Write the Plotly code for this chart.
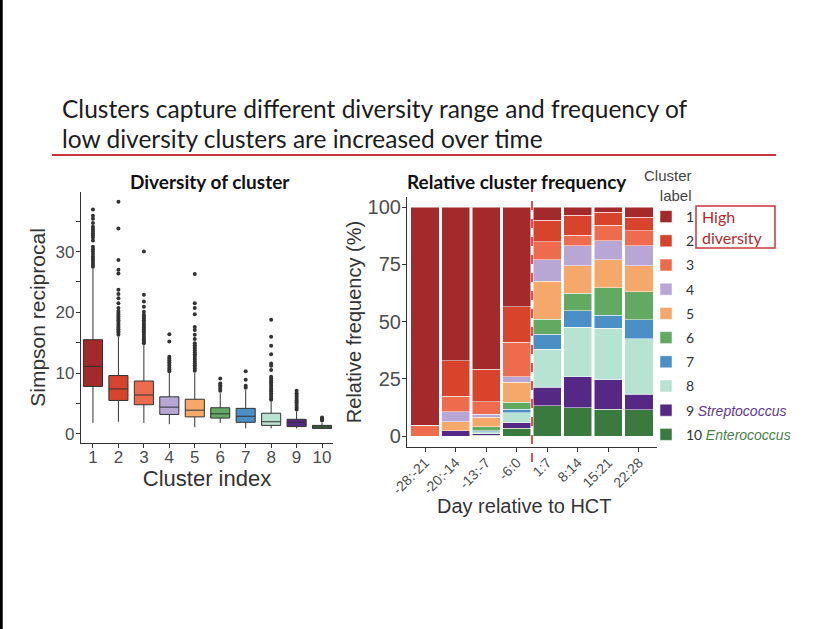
import plotly.graph_objects as go

# ---------------- data ----------------
clusters = [1, 2, 3, 4, 5, 6, 7, 8, 9, 10]
cluster_colors = ["#A3292A", "#D8432B", "#EE6C4D", "#B8A6D4", "#F5A86A",
                  "#62AA62", "#4A8FC6", "#B7E3D3", "#562885", "#3B7A3F"]

# Simpson reciprocal box stats per cluster
box_lower = [1.8, 2.0, 1.8, 1.6, 1.1, 1.8, 0.9, 0.9, 0.9, 0.85]
box_q1 = [7.8, 5.5, 4.8, 3.2, 2.8, 2.6, 1.9, 1.4, 1.2, 0.9]
box_median = [11.1, 7.4, 6.4, 4.4, 3.9, 3.3, 2.9, 2.0, 1.9, 1.15]
box_q3 = [15.5, 9.6, 8.7, 6.1, 5.7, 4.3, 4.2, 3.4, 2.4, 1.4]
box_upper = [27.2, 16.0, 14.6, 10.0, 10.0, 6.7, 7.2, 5.3, 3.7, 1.8]

out_c1 = [36.9, 35.9, 35.4, 34.7, 34.1, 33.7, 33.4, 33.0, 32.7, 32.3, 31.8,
          30.8, 30.4, 30.0, 29.6, 29.2, 28.8, 28.5, 28.1, 27.8, 27.5]
out_c2 = [38.2, 33.8, 28.6, 27.0, 26.4, 23.7, 23.0, 22.3, 21.5, 20.7, 20.2,
          19.9, 19.6, 19.3, 19.0, 18.7, 18.4, 18.1, 17.8, 17.5, 17.2, 16.9,
          16.6, 16.3]
out_c3 = [30.0, 22.9, 21.8, 20.9, 20.1, 19.6, 19.3, 19.0, 18.7, 18.4, 18.1,
          17.8, 17.5, 17.2, 16.9, 16.6, 16.3, 16.0, 15.7, 15.4, 15.1, 14.9]
out_c4 = [16.4, 15.2, 12.7, 12.4, 12.1, 11.8, 11.5, 11.2, 10.9, 10.6, 10.3]
out_c5 = [26.3, 21.5, 20.7, 19.7, 17.6, 17.1, 16.3, 15.6, 14.9, 14.6, 14.3,
          14.0, 13.7, 13.4, 13.1, 12.8, 12.5, 12.2, 11.9, 11.6, 11.3, 11.0,
          10.7, 10.4]
out_c6 = [9.1, 8.3, 8.0, 7.7, 7.4, 7.1]
out_c7 = [10.3, 8.9, 7.9, 7.6]
out_c8 = [18.8, 16.0, 14.5, 13.1, 11.6, 11.2, 10.5, 9.4, 9.1, 8.8, 8.5, 8.2,
          7.9, 7.6, 7.3, 7.0, 6.7, 6.4, 6.1, 5.8, 5.6]
out_c9 = [7.1, 6.7, 6.4, 6.1, 5.8, 5.5, 5.2, 4.9, 4.6, 4.3, 4.0]
out_c10 = [2.7, 2.5, 2.4, 2.3, 2.2]

# relative cluster frequency (%) per period
periods = ["-28:-21", "-20:-14", "-13:-7", "-6:0", "1:7", "8:14", "15:21", "22:28"]
freq_c1 = [95.2, 67.2, 70.9, 43.6, 5.7, 3.5, 2.3, 4.5]
freq_c2 = [0, 15.5, 14.1, 15.4, 9.4, 8.7, 5.6, 5.8]
freq_c3 = [4.8, 6.6, 5.5, 15.1, 8.0, 4.8, 6.8, 6.7]
freq_c4 = [0, 4.4, 1.3, 2.5, 9.2, 8.6, 8.4, 8.6]
freq_c5 = [0, 4.0, 4.1, 8.7, 16.6, 12.1, 12.1, 11.4]
freq_c6 = [0, 0, 1.9, 2.9, 6.7, 7.6, 12.0, 12.3]
freq_c7 = [0, 0, 0.4, 1.6, 6.6, 7.2, 5.8, 8.3]
freq_c8 = [0, 0, 0.9, 4.4, 16.5, 21.6, 22.5, 24.1]
freq_c9 = [0, 2.3, 0.5, 2.4, 8.1, 13.5, 12.9, 6.9]
freq_c10 = [0, 0, 0.4, 3.4, 13.2, 12.4, 11.6, 11.4]

legend_names = ["1", "2", "3", "4", "5", "6", "7", "8",
                "9 <span style='font-family:Liberation Sans;color:#5E3A8C'><i>Streptococcus</i></span>",
                "10 <span style='font-family:Liberation Sans;color:#4B7F4B'><i>Enterococcus</i></span>"]

outliers = [out_c1, out_c2, out_c3, out_c4, out_c5, out_c6, out_c7, out_c8, out_c9, out_c10]
freqs = [freq_c1, freq_c2, freq_c3, freq_c4, freq_c5, freq_c6, freq_c7, freq_c8, freq_c9, freq_c10]

W, H = 828, 629
def px_x(v):
    return v / W
def px_y(v):
    return (H - v) / H

AX_FONT = "Liberation Sans"
TXT_FONT = "Lato"

fig = go.Figure()

# ---------------- left: boxplots ----------------
for i, c in enumerate(clusters):
    fig.add_trace(go.Box(
        x=[c], q1=[box_q1[i]], median=[box_median[i]], q3=[box_q3[i]],
        lowerfence=[box_lower[i]], upperfence=[box_upper[i]],
        fillcolor=cluster_colors[i], line=dict(color="#333333", width=1),
        width=0.75, whiskerwidth=0, boxpoints=False, showlegend=False,
        xaxis="x", yaxis="y", hoverinfo="skip",
    ))

ox, oy = [], []
for c, vals in zip(clusters, outliers):
    ox += [c] * len(vals)
    oy += vals
fig.add_trace(go.Scatter(
    x=ox, y=oy, mode="markers", marker=dict(size=4, color="#333333"),
    showlegend=False, xaxis="x", yaxis="y", hoverinfo="skip",
))

# ---------------- right: stacked bars (cluster 10 at the bottom) ----------------
for i in reversed(range(len(clusters))):
    fig.add_trace(go.Bar(
        x=periods, y=freqs[i], name=legend_names[i],
        marker=dict(color=cluster_colors[i], line=dict(color="white", width=0.5)),
        xaxis="x2", yaxis="y2", legendgroup=str(clusters[i]),
        legendrank=clusters[i],
    ))

axis_common = dict(showline=True, linecolor="#333333", linewidth=1.2,
                   ticks="outside", ticklen=4, tickcolor="#333333",
                   showgrid=False, zeroline=False, automargin=False)

fig.update_layout(
    width=W, height=H,
    margin=dict(l=0, r=0, t=0, b=0),
    paper_bgcolor="white", plot_bgcolor="white",
    barmode="stack", bargap=0.08,
    xaxis=dict(domain=[px_x(81), px_x(333)], anchor="y", range=[0.53, 10.43],
               tickvals=clusters, ticktext=[str(c) for c in clusters],
               ticklabelstandoff=-6,
               tickfont=dict(family=AX_FONT, size=17, color="#4D4D4D"),
               title=dict(text="Cluster index", standoff=0,
                          font=dict(family=AX_FONT, size=22, color="#333333")),
               **axis_common),
    yaxis=dict(domain=[px_y(443), px_y(192)], anchor="x", range=[-1.5, 39.8],
               tickvals=[0, 5, 10, 15, 20, 25, 30, 35],
               ticktext=["0", "", "10", "", "20", "", "30", ""],
               ticklabelstandoff=-2,
               tickfont=dict(family=AX_FONT, size=17, color="#4D4D4D"),
               title=dict(text="Simpson reciprocal", standoff=4,
                          font=dict(family=AX_FONT, size=21, color="#333333")),
               **axis_common),
    xaxis2=dict(domain=[px_x(407), px_x(657)], anchor="y2", type="category",
                range=[-0.59, 7.59], tickangle=-45, ticklabelstandoff=-3,
                tickfont=dict(family=AX_FONT, size=14, color="#4D4D4D"),
                **axis_common),
    yaxis2=dict(domain=[px_y(447), px_y(197)], anchor="x2", range=[-4.8, 104.4],
                tickvals=[0, 25, 50, 75, 100], ticklabelstandoff=-3,
                tickfont=dict(family=AX_FONT, size=20, color="#4D4D4D"),
                title=dict(text="Relative frequency (%)", standoff=0,
                           font=dict(family=AX_FONT, size=20, color="#333333")),
                **axis_common),
    legend=dict(x=px_x(646), y=px_y(201), xanchor="left", yanchor="top",
                traceorder="grouped", tracegroupgap=3,
                font=dict(family=TXT_FONT, size=14, color="#333333"),
                bgcolor="rgba(0,0,0,0)", borderwidth=0, itemclick=False),
    font=dict(family=AX_FONT),
)

annotations = [
    dict(text="Clusters capture different diversity range and frequency of",
         x=px_x(60), y=px_y(108), xanchor="left", yanchor="middle", align="left",
         font=dict(family=TXT_FONT, size=24.5, color="#1C1C1C")),
    dict(text="low diversity clusters are increased over time",
         x=px_x(60), y=px_y(138), xanchor="left", yanchor="middle", align="left",
         font=dict(family=TXT_FONT, size=24.5, color="#1C1C1C")),
    dict(text="<b>Diversity of cluster</b>", x=px_x(210), y=px_y(181),
         xanchor="center", yanchor="middle",
         font=dict(family=TXT_FONT, size=19, color="#111111")),
    dict(text="<b>Relative cluster frequency</b>", x=px_x(517), y=px_y(181),
         xanchor="center", yanchor="middle",
         font=dict(family=TXT_FONT, size=19, color="#111111")),
    dict(text="Day relative to HCT", x=px_x(524), y=px_y(506),
         xanchor="center", yanchor="middle",
         font=dict(family=AX_FONT, size=20, color="#333333")),
    dict(text="Cluster<br>label", x=px_x(694), y=px_y(165), xanchor="right",
         yanchor="top", align="right",
         font=dict(family=AX_FONT, size=15, color="#444444")),
    dict(text="High<br>diversity", x=px_x(700), y=px_y(227), xanchor="left",
         yanchor="middle", align="left",
         font=dict(family=TXT_FONT, size=16, color="#B22A2E")),
]
for a in annotations:
    a.update(xref="paper", yref="paper", showarrow=False)
fig.update_layout(annotations=annotations)

shapes = [
    # slide left border
    dict(type="line", xref="paper", yref="paper", x0=0.0015, x1=0.0015, y0=0, y1=1,
         line=dict(color="black", width=3)),
    # red rule under the title
    dict(type="line", xref="paper", yref="paper", x0=px_x(52), x1=px_x(776),
         y0=px_y(155), y1=px_y(155), line=dict(color="#C9373B", width=2)),
    # HCT day 0 marker
    dict(type="line", xref="x2", yref="paper", x0=3.5, x1=3.5,
         y0=px_y(462), y1=px_y(183), line=dict(color="#D7262B", width=1.6, dash="dash")),
    # "High diversity" box
    dict(type="rect", xref="paper", yref="paper", x0=px_x(696), x1=px_x(775),
         y0=px_y(248), y1=px_y(206), line=dict(color="#C9373B", width=1.5)),
]
fig.update_layout(shapes=shapes)

fig.write_html("out.html", config={"displayModeBar": False},
               post_script="document.body.style.margin='0';")
